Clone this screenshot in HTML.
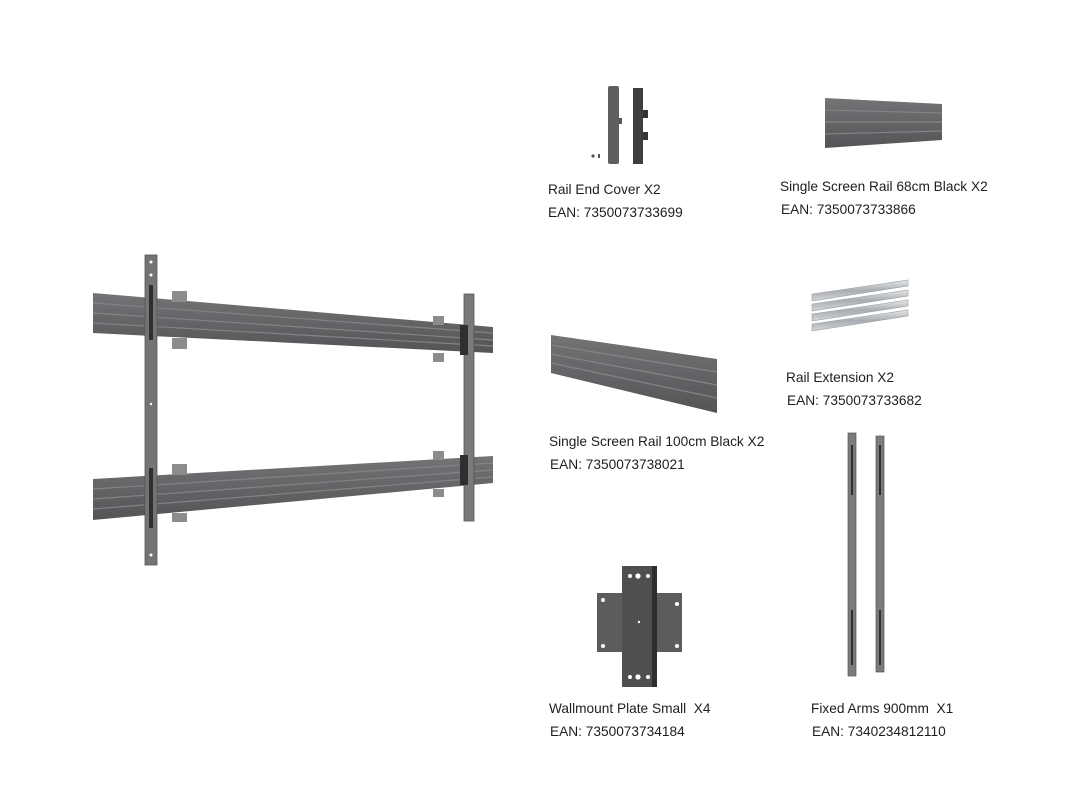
<!DOCTYPE html>
<html><head><meta charset="utf-8"><style>
html,body{margin:0;padding:0;background:#fff;}
svg{display:block}
text{font-family:"Liberation Sans",sans-serif;font-size:13.7px;fill:#1e1e1e;}
</style></head><body>
<svg width="1080" height="811" viewBox="0 0 1080 811" xmlns="http://www.w3.org/2000/svg">
<defs>
<linearGradient id="rail" x1="0" y1="0" x2="0" y2="1">
<stop offset="0" stop-color="#747477"/><stop offset="0.5" stop-color="#646467"/><stop offset="1" stop-color="#545457"/>
</linearGradient>
<linearGradient id="steel" x1="0" y1="0" x2="0" y2="1">
<stop offset="0" stop-color="#e6e8ea"/><stop offset="0.5" stop-color="#a9adb1"/><stop offset="1" stop-color="#d4d7da"/>
</linearGradient>
</defs>

<polygon points="93,293 493,327 493,353 93,333" fill="url(#rail)"/>
<g stroke="#838386" stroke-width="1.2" fill="none">
<line x1="93" y1="303" x2="493" y2="333"/><line x1="93" y1="313" x2="493" y2="340"/><line x1="93" y1="323" x2="493" y2="346"/>
</g>
<polygon points="93,479 493,456 493,483 93,520" fill="url(#rail)"/>
<g stroke="#838386" stroke-width="1.2" fill="none">
<line x1="93" y1="489" x2="493" y2="463"/><line x1="93" y1="499" x2="493" y2="470"/><line x1="93" y1="509" x2="493" y2="477"/>
</g>
<g fill="#8c8c8f">
<rect x="172" y="291" width="15" height="11"/><rect x="172" y="338" width="15" height="11"/>
<rect x="433" y="316" width="11" height="9"/><rect x="433" y="353" width="11" height="9"/>
<rect x="172" y="464" width="15" height="11"/><rect x="172" y="513" width="15" height="9"/>
<rect x="433" y="451" width="11" height="9"/><rect x="433" y="489" width="11" height="8"/>
</g>
<rect x="145" y="255" width="12" height="310" fill="#747477" stroke="#555" stroke-width="0.8"/>
<g fill="#fff"><circle cx="151" cy="262" r="1.5"/><circle cx="151" cy="275" r="1.5"/><circle cx="151" cy="404" r="1.2"/><circle cx="151" cy="555" r="1.5"/></g>
<g fill="#2f2f31"><rect x="149" y="285" width="4" height="55"/><rect x="149" y="468" width="4" height="60"/></g>
<rect x="464" y="294" width="10" height="227" fill="#7a7a7d" stroke="#555" stroke-width="0.8"/>
<g fill="#2f2f31"><rect x="460" y="325" width="8" height="30"/><rect x="460" y="455" width="8" height="30"/></g>

<rect x="608" y="86" width="11" height="78" rx="2" fill="#5f5f62"/>
<rect x="619" y="118" width="3" height="6" fill="#555"/>
<rect x="633" y="88" width="10" height="76" fill="#3e3e40"/>
<rect x="643" y="110" width="5" height="8" fill="#333"/><rect x="643" y="132" width="5" height="8" fill="#333"/>
<circle cx="593" cy="156" r="1.6" fill="#555"/><rect x="598" y="154" width="2" height="4" fill="#555"/>

<polygon points="825,98 942,104 942,140 825,148" fill="url(#rail)"/>
<g stroke="#838386" stroke-width="1.2"><line x1="825" y1="110" x2="942" y2="113"/><line x1="825" y1="122" x2="942" y2="122"/><line x1="825" y1="134" x2="942" y2="131"/></g>

<g fill="url(#steel)" stroke="#9a9ea2" stroke-width="0.6">
<polygon points="812,294 908,280 908,286 812,301"/>
<polygon points="812,304 908,290 908,296 812,311"/>
<polygon points="812,314 908,300 908,306 812,321"/>
<polygon points="812,324 908,310 908,316 812,331"/>
</g>

<polygon points="551,335 717,359 717,413 551,373" fill="url(#rail)"/>
<g stroke="#838386" stroke-width="1.3"><line x1="551" y1="345" x2="717" y2="372"/><line x1="551" y1="354" x2="717" y2="385"/><line x1="551" y1="363" x2="717" y2="398"/></g>

<rect x="597" y="593" width="85" height="59" fill="#5c5c5f"/>
<rect x="622" y="566" width="35" height="121" fill="#4f4f52"/>
<rect x="652" y="566" width="5" height="121" fill="#2e2e30"/>
<g fill="#fff"><circle cx="603" cy="600" r="2"/><circle cx="603" cy="646" r="2"/><circle cx="677" cy="604" r="2"/><circle cx="677" cy="646" r="2"/>
<circle cx="630" cy="576" r="2"/><circle cx="638" cy="576" r="2.6"/><circle cx="648" cy="576" r="2"/>
<circle cx="630" cy="677" r="2"/><circle cx="638" cy="677" r="2.6"/><circle cx="648" cy="677" r="2"/><circle cx="639" cy="622" r="1.2"/></g>

<rect x="848" y="433" width="8" height="243" fill="#7b7b7e" stroke="#555" stroke-width="0.7"/>
<rect x="876" y="436" width="8" height="236" fill="#7b7b7e" stroke="#555" stroke-width="0.7"/>
<g fill="#2f2f31"><rect x="851" y="445" width="2" height="50"/><rect x="851" y="610" width="2" height="55"/><rect x="879" y="445" width="2" height="50"/><rect x="879" y="610" width="2" height="55"/></g>

<text x="548" y="194">Rail End Cover X2</text>
<text x="548" y="217">EAN: 7350073733699</text>
<text x="780" y="191">Single Screen Rail 68cm Black X2</text>
<text x="781" y="214">EAN: 7350073733866</text>
<text x="786" y="382">Rail Extension X2</text>
<text x="787" y="405">EAN: 7350073733682</text>
<text x="549" y="446">Single Screen Rail 100cm Black X2</text>
<text x="550" y="469">EAN: 7350073738021</text>
<text x="549" y="713" xml:space="preserve">Wallmount Plate Small  X4</text>
<text x="550" y="736">EAN: 7350073734184</text>
<text x="811" y="713" xml:space="preserve">Fixed Arms 900mm  X1</text>
<text x="812" y="736">EAN: 7340234812110</text>
</svg>
</body></html>
